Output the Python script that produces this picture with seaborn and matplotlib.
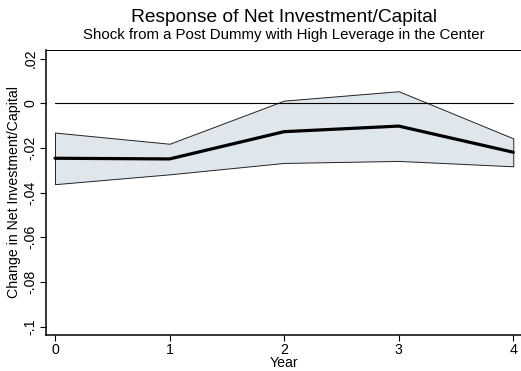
import matplotlib
matplotlib.use("Agg")
import matplotlib.pyplot as plt
import seaborn as sns
import pandas as pd

# Impulse response of net investment/capital with confidence band
years = [0, 1, 2, 3, 4]
response = [-0.0246, -0.0249, -0.0127, -0.0102, -0.0219]
upper = [-0.0131, -0.0181, 0.0012, 0.0054, -0.0157]
lower = [-0.0362, -0.0318, -0.0267, -0.0258, -0.0282]
zero_line = [0, 0, 0, 0, 0]
y_ticks = [0.02, 0.0, -0.02, -0.04, -0.06, -0.08, -0.1]
y_tick_labels = [".02", "0", "-.02", "-.04", "-.06", "-.08", "-.1"]

df = pd.DataFrame({"Year": years, "resp": response, "up": upper,
                   "lo": lower, "zero": zero_line})

sns.set_theme(style="white")
plt.rcParams["font.family"] = ["Liberation Sans", "DejaVu Sans"]
plt.rcParams["text.color"] = "black"
plt.rcParams["axes.labelcolor"] = "black"
plt.rcParams["xtick.color"] = "black"
plt.rcParams["ytick.color"] = "black"

fig = plt.figure(figsize=(5.21, 3.71), dpi=100)
ax = fig.add_axes([46 / 521, 1 - 335 / 371, (523 - 46) / 521, (335 - 50) / 371])

ax.fill_between(df["Year"], df["lo"], df["up"], facecolor="#dfe6ec",
                edgecolor="#222222", linewidth=0.7, zorder=1)
sns.lineplot(data=df, x="Year", y="zero", ax=ax, color="black",
             linewidth=0.8, zorder=2)
sns.lineplot(data=df, x="Year", y="resp", ax=ax, color="black",
             linewidth=2.3, zorder=3)

ax.set_xlim(-0.0785, 4.085)
ax.set_ylim(-0.1037, 0.02385)
ax.set_xticks(years)
ax.set_xticklabels([str(y) for y in years], fontsize=10.2)
ax.set_yticks(y_ticks)
ax.set_yticklabels(y_tick_labels, fontsize=10.2, rotation=90, va="center")
ax.tick_params(axis="both", direction="out", length=4, width=0.8,
               color="black", pad=2, bottom=True, left=True)

for side in ["left", "bottom", "top", "right"]:
    ax.spines[side].set_color("black")
ax.spines["left"].set_linewidth(1.1)
ax.spines["bottom"].set_linewidth(1.1)
ax.spines["top"].set_linewidth(0.7)
ax.spines["right"].set_linewidth(0.7)

ax.set_xlabel("Year", fontsize=10.2, labelpad=-1)
ax.set_ylabel("Change in Net Investment/Capital", fontsize=10.2, labelpad=2)

fig.text(284 / 521, 1 - 17 / 371, "Response of Net Investment/Capital",
         ha="center", va="center", fontsize=13.8)
fig.text(284 / 521, 1 - 35 / 371,
         "Shock from a Post Dummy with High Leverage in the Center",
         ha="center", va="center", fontsize=10.8)

fig.savefig("out.png", dpi=100)
